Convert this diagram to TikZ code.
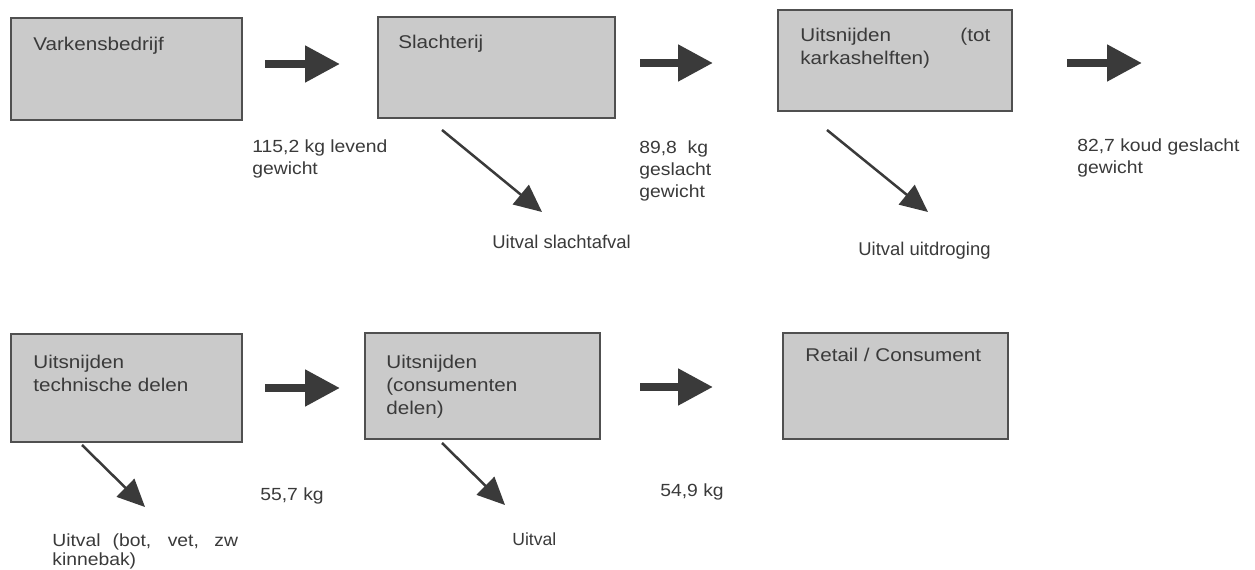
\documentclass[tikz,border=0pt]{standalone}
\usepackage{fontspec}
\setmainfont{Liberation Sans}
\newfontfamily\boxfont[FakeStretch=1.12]{Liberation Sans}
\newfontfamily\lblfont[FakeStretch=1.1]{Liberation Sans}
\usetikzlibrary{arrows.meta}
\definecolor{ink}{HTML}{3A3A3A}
\definecolor{boxfill}{HTML}{CACACA}
\definecolor{boxline}{HTML}{505050}
\tikzset{
  procbox/.style={draw=boxline, line width=0.04cm, fill=boxfill, inner sep=0pt, outer sep=0pt},
  boxtext/.style={anchor=north west, inner sep=0pt, text=ink, align=left,
    font=\boxfont\fontsize{10.5}{13}\selectfont},
  flowlbl/.style={anchor=north west, inner sep=0pt, text=ink, align=left,
    font=\lblfont\fontsize{10}{12.5}\selectfont},
  losslbl/.style={anchor=north west, inner sep=0pt, text=ink,
    font=\fontsize{10.5}{12.5}\selectfont},
  bigarrow/.style={draw=ink, line width=0.16cm,
    -{Triangle[length=0.7cm,width=0.7cm]}},
  lossarrow/.style={draw=ink, line width=0.05cm,
    -{Triangle[length=0.55cm,width=0.5cm]}}
}
\begin{document}
\begin{tikzpicture}[x=0.02cm,y=-0.02cm]
\useasboundingbox (0,0) rectangle (1255,570);
\fill[white] (0,0) rectangle (1255,570);

% boxes
\node[procbox, minimum width=4.62cm, minimum height=2.04cm] (b1) at (126.5,69) {};
\node[procbox, minimum width=4.74cm, minimum height=2.02cm] (b2) at (496.5,67.5) {};
\node[procbox, minimum width=4.68cm, minimum height=2.02cm] (b3) at (895,60.5) {};
\node[procbox, minimum width=4.62cm, minimum height=2.16cm] (b4) at (126.5,388) {};
\node[procbox, minimum width=4.70cm, minimum height=2.12cm] (b5) at (482.5,386) {};
\node[procbox, minimum width=4.50cm, minimum height=2.12cm] (b6) at (895.5,386) {};

% box texts
\node[boxtext] (t1) at (33,37) {Varkensbedrijf};
\node[boxtext] (t2) at (398,35) {Slachterij};
\node[boxtext, text width=3.8cm] (t3) at (800,28) {Uitsnijden\hfill(tot\\karkashelften)};
\node[boxtext] (t4) at (33,355) {Uitsnijden\\technische delen};
\node[boxtext] (t5) at (386,355) {Uitsnijden\\(consumenten\\delen)};
\node[boxtext] (t6) at (805,348) {Retail / Consument};

% flow labels
\node[flowlbl] (l1) at (252,139) {115,2 kg levend\\gewicht};
\node[flowlbl] (l2) at (639,140) {89,8\ \ kg\\geslacht\\gewicht};
\node[flowlbl] (l3) at (1077,138) {82,7 koud geslacht\\gewicht};
\node[flowlbl] (l4) at (260,487) {55,7 kg};
\node[flowlbl] (l5) at (660,483) {54,9 kg};

% loss labels
\node[losslbl] (u1) at (492,235) {Uitval slachtafval};
\node[losslbl] (u2) at (858,242) {Uitval uitdroging};
\node[losslbl, font=\fontsize{10}{12}\selectfont] (u4) at (512,532) {Uitval};
\begin{scope}
  \clip (40,520) rectangle (239,570);
  \node[flowlbl, font=\lblfont\fontsize{10}{11}\selectfont] (u3) at (52,533)
    {Uitval\hspace{0.24cm}(bot,\hspace{0.33cm}vet,\hspace{0.31cm}zw\\kinnebak)};
\end{scope}

% big flow arrows
\coordinate (a1s) at (265,64);   \coordinate (a1e) at (340,64);
\coordinate (a2s) at (640,63);   \coordinate (a2e) at (713,63);
\coordinate (a3s) at (1067,63);  \coordinate (a3e) at (1142,63);
\coordinate (a4s) at (265,388);  \coordinate (a4e) at (340,388);
\coordinate (a5s) at (640,387);  \coordinate (a5e) at (713,387);
\draw[bigarrow] (a1s) -- (a1e);
\draw[bigarrow] (a2s) -- (a2e);
\draw[bigarrow] (a3s) -- (a3e);
\draw[bigarrow] (a4s) -- (a4e);
\draw[bigarrow] (a5s) -- (a5e);

% loss arrows
\coordinate (d1s) at (442,130);  \coordinate (d1e) at (542,212);
\coordinate (d2s) at (827,130);  \coordinate (d2e) at (928,212);
\coordinate (d3s) at (82,445);   \coordinate (d3e) at (145,507);
\coordinate (d4s) at (442,443);  \coordinate (d4e) at (505,505);
\draw[lossarrow] (d1s) -- (d1e);
\draw[lossarrow] (d2s) -- (d2e);
\draw[lossarrow] (d3s) -- (d3e);
\draw[lossarrow] (d4s) -- (d4e);
\end{tikzpicture}
\end{document}
